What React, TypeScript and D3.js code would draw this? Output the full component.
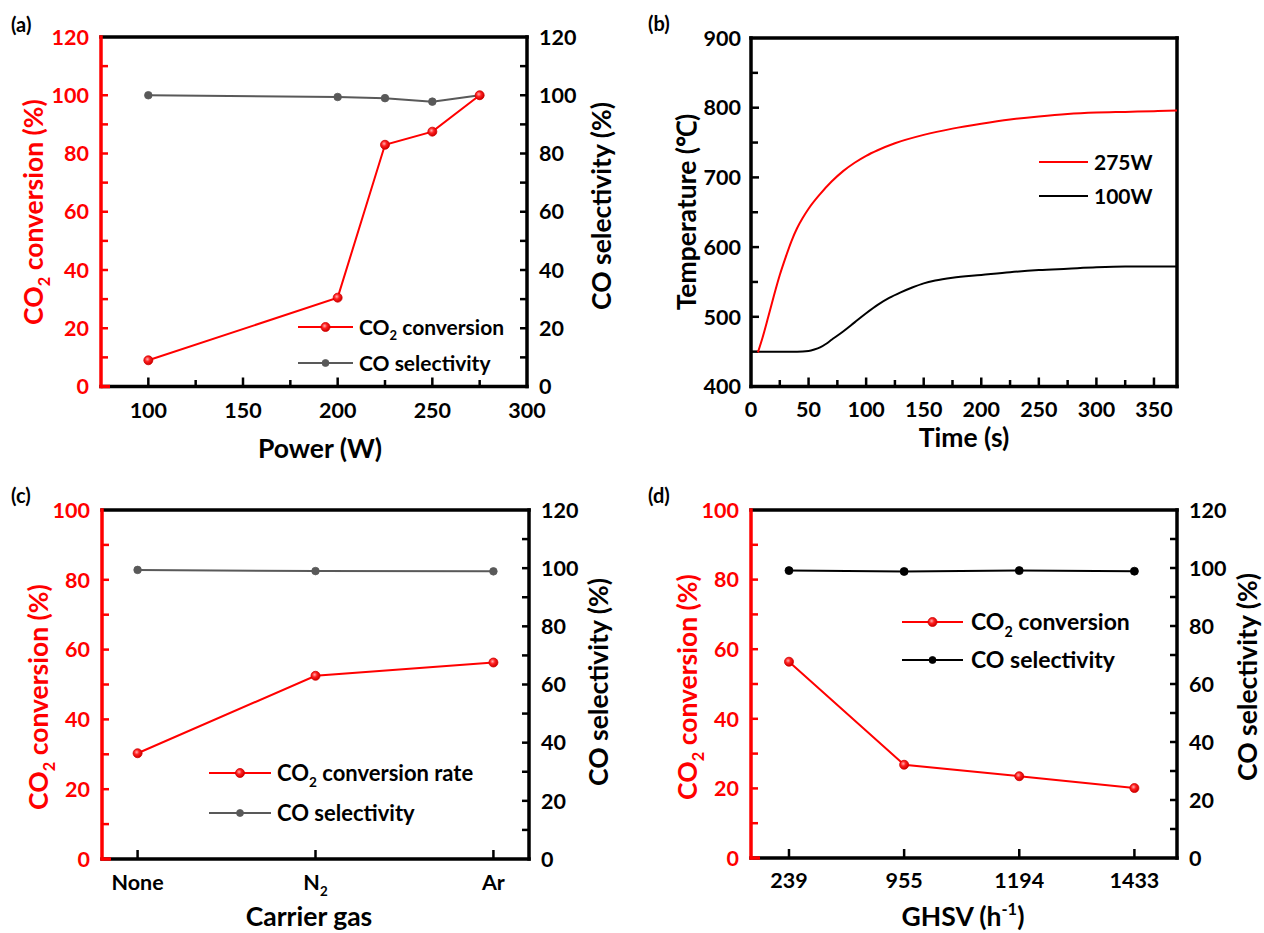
import React, { useEffect, useRef } from 'react';
import * as d3 from 'd3';

const W = 1264;
const H = 933;
const RED = '#ff0000';
const GREY = '#595959';
const FONT = 'Lato, "Open Sans", sans-serif';

// (a) power series
const powerW = [100, 200, 225, 250, 275];
const convA = [9, 30.5, 83, 87.5, 100];
const selA = [100, 99.4, 99, 97.8, 100];

// (b) temperature curves
const time275 = [6, 10, 15, 20, 25, 30, 35, 40, 45, 50, 60, 70, 80, 90, 100, 110, 125, 150, 175, 200, 225, 250, 275, 300, 325, 350, 370];
const temp275 = [449, 470, 500, 531, 560, 585, 608, 627, 642, 655, 676, 694, 709, 721, 731, 739, 749, 761, 770, 777, 783, 787.5, 791, 793, 794, 795, 796];
const time100 = [6, 20, 40, 50, 55, 60, 65, 70, 80, 90, 100, 110, 120, 130, 140, 150, 160, 175, 200, 225, 250, 275, 300, 325, 350, 370];
const temp100 = [450, 450, 450, 451, 453, 456, 461, 467, 479, 492, 505, 517, 527, 535, 542, 548, 552, 556, 560, 564, 567, 569, 571, 572, 572, 572];

// (c) carrier gas
const gasLabels = [[{ t: 'None' }], [{ t: 'N' }, { t: '2', sub: true }], [{ t: 'Ar' }]];
const convC = [30.3, 52.5, 56.3];
const selC = [99.4, 99.0, 98.9];

// (d) GHSV
const ghsvLabels = ['239', '955', '1194', '1433'];
const convD = [56.4, 26.8, 23.5, 20.1];
const selD = [99.1, 98.8, 99.1, 98.9];

type Part = { t: string; sub?: boolean; sup?: boolean };

const CO2_CONV: Part[] = [{ t: 'CO' }, { t: '2', sub: true }, { t: ' conversion (%)' }];
const CO_SEL: Part[] = [{ t: 'CO selectivity (%)' }];

function rich(text: any, parts: Part[], size: number) {
  let shift = 0;
  parts.forEach((p) => {
    const target = p.sub ? size * 0.28 : p.sup ? -size * 0.4 : 0;
    text.append('tspan')
      .attr('dy', target - shift)
      .attr('font-size', p.sub || p.sup ? size * 0.62 : size)
      .text(p.t);
    shift = target;
  });
}

function label(g: any, x: number, y: number, parts: Part[], size: number, anchor = 'start', rotate = 0, fill = '#000') {
  const t = g.append('text')
    .attr('transform', `translate(${x},${y}) rotate(${rotate})`)
    .attr('text-anchor', anchor)
    .attr('font-family', FONT)
    .attr('font-weight', 700)
    .attr('font-size', size)
    .attr('fill', fill);
  rich(t, parts, size);
  return t;
}

function ticksY(g: any, y: any, values: number[], x: number, dir: number, len: number, color: string) {
  g.append('g').selectAll('line').data(values).join('line')
    .attr('x1', x).attr('x2', x + dir * len)
    .attr('y1', (d: number) => y(d)).attr('y2', (d: number) => y(d))
    .attr('stroke', color).attr('stroke-width', 2.5);
}

function ticksX(g: any, x: any, values: number[], y: number, len: number) {
  g.append('g').selectAll('line').data(values).join('line')
    .attr('x1', (d: number) => x(d)).attr('x2', (d: number) => x(d))
    .attr('y1', y).attr('y2', y - len)
    .attr('stroke', '#000').attr('stroke-width', 2.5);
}

function yLabels(g: any, y: any, values: number[], x: number, anchor: string, color: string) {
  g.append('g').selectAll('text').data(values).join('text')
    .attr('x', x).attr('y', (d: number) => y(d)).attr('dy', '0.36em')
    .attr('text-anchor', anchor)
    .attr('font-family', FONT).attr('font-weight', 700).attr('font-size', 21.5)
    .attr('fill', color)
    .text((d: number) => d);
}

function frame(g: any, l: number, t: number, r: number, b: number, redLeft: boolean) {
  const sw = 3.5;
  g.append('line').attr('x1', l).attr('x2', r).attr('y1', t).attr('y2', t).attr('stroke', '#000').attr('stroke-width', sw).attr('stroke-linecap', 'square');
  g.append('line').attr('x1', l).attr('x2', r).attr('y1', b).attr('y2', b).attr('stroke', '#000').attr('stroke-width', sw).attr('stroke-linecap', 'square');
  g.append('line').attr('x1', r).attr('x2', r).attr('y1', t).attr('y2', b).attr('stroke', '#000').attr('stroke-width', sw).attr('stroke-linecap', 'square');
  const lc = redLeft ? RED : '#000';
  g.append('line').attr('x1', l).attr('x2', l).attr('y1', t).attr('y2', b).attr('stroke', lc).attr('stroke-width', sw).attr('stroke-linecap', 'square');
  if (redLeft) {
    g.append('line').attr('x1', l).attr('x2', l + 9).attr('y1', b).attr('y2', b).attr('stroke', RED).attr('stroke-width', sw);
  }
}

function series(g: any, xs: number[], ys: number[], x: any, y: any, color: string, marker: string, r: number) {
  const line = d3.line<number>().x((d, i) => x(xs[i])).y((d) => y(d));
  g.append('path').datum(ys).attr('d', line).attr('fill', 'none').attr('stroke', color).attr('stroke-width', 2);
  g.append('g').selectAll('circle').data(ys).join('circle')
    .attr('cx', (d: number, i: number) => x(xs[i])).attr('cy', (d: number) => y(d)).attr('r', r)
    .attr('fill', marker).attr('stroke', color === RED ? '#d00000' : color).attr('stroke-width', 0.8);
}

function legendRow(g: any, x1: number, x2: number, y: number, color: string, marker: string | null, r: number, parts: Part[], tx: number, size: number) {
  g.append('line').attr('x1', x1).attr('x2', x2).attr('y1', y).attr('y2', y).attr('stroke', color).attr('stroke-width', 2);
  if (marker) {
    g.append('circle').attr('cx', (x1 + x2) / 2).attr('cy', y).attr('r', r).attr('fill', marker)
      .attr('stroke', color === RED ? '#d00000' : color).attr('stroke-width', 0.8);
  }
  label(g, tx, y + size * 0.36, parts, size);
}

type DualCfg = {
  box: [number, number, number, number];
  x: any;
  xTickVals: number[];
  xMinor: number[];
  xTickLen: number;
  xLabelVals: number[];
  xLabels: Part[][];
  xLabelY: number;
  leftMax: number;
  xs: number[];
  conv: number[];
  sel: number[];
  selColor: string;
  selR: number;
  leftTitle: [number, number];
  rightTitle: [number, number];
  xTitle: Part[];
  xTitlePos: [number, number];
  leg: { x1: number; x2: number; y1: number; y2: number; tx: number; size: number; convText: Part[] };
  tag: string;
  tagPos: [number, number];
};

function dualPanel(svg: any, c: DualCfg) {
  const [l, t, r, b] = c.box;
  const g = svg.append('g');
  const yL = d3.scaleLinear().domain([0, c.leftMax]).range([b, t]);
  const yR = d3.scaleLinear().domain([0, 120]).range([b, t]);

  frame(g, l, t, r, b, true);
  ticksY(g, yL, d3.range(10, c.leftMax, 10), l, 1, 7, RED);
  ticksY(g, yR, d3.range(10, 120, 10), r, -1, 7, '#000');
  ticksX(g, c.x, c.xTickVals, b, c.xTickLen);
  ticksX(g, c.x, c.xMinor, b, 6.5);

  yLabels(g, yL, d3.range(0, c.leftMax + 1, 20), l - 12, 'end', RED);
  yLabels(g, yR, d3.range(0, 121, 20), r + 12, 'start', '#000');
  c.xLabelVals.forEach((v, i) => label(g, c.x(v), c.xLabelY, c.xLabels[i], 21.5, 'middle'));

  label(g, c.leftTitle[0], c.leftTitle[1], CO2_CONV, 26.5, 'middle', -90, RED);
  label(g, c.rightTitle[0], c.rightTitle[1], CO_SEL, 26.5, 'middle', -90);
  label(g, c.xTitlePos[0], c.xTitlePos[1], c.xTitle, 26.5, 'middle');
  label(g, c.tagPos[0], c.tagPos[1], [{ t: c.tag }], 20);

  series(g, c.xs, c.sel, c.x, yR, c.selColor, c.selColor, c.selR);
  series(g, c.xs, c.conv, c.x, yL, RED, 'url(#ball)', 4.5);

  legendRow(g, c.leg.x1, c.leg.x2, c.leg.y1, RED, 'url(#ball)', 4.5, c.leg.convText, c.leg.tx, c.leg.size);
  legendRow(g, c.leg.x1, c.leg.x2, c.leg.y2, c.selColor, c.selColor, 3.5, CO_SEL.map((p) => ({ t: p.t.replace(' (%)', '') })), c.leg.tx, c.leg.size);
}

function tempPanel(svg: any) {
  const [l, t, r, b] = [751, 38, 1177, 386.5];
  const g = svg.append('g');
  const x = d3.scaleLinear().domain([0, 370]).range([l, r]);
  const y = d3.scaleLinear().domain([400, 900]).range([b, t]);

  frame(g, l, t, r, b, false);
  ticksY(g, y, d3.range(450, 900, 100), l, 1, 7, '#000');
  ticksY(g, y, d3.range(500, 900, 100), l, 1, 8, '#000');
  ticksX(g, x, d3.range(50, 360, 50), b, 9);
  ticksX(g, x, d3.range(25, 370, 50), b, 6.5);
  yLabels(g, y, d3.range(400, 901, 100), l - 10, 'end', '#000');
  g.append('g').selectAll('text').data(d3.range(0, 351, 50)).join('text')
    .attr('x', (d: number) => x(d)).attr('y', 417)
    .attr('text-anchor', 'middle')
    .attr('font-family', FONT).attr('font-weight', 700).attr('font-size', 21.5)
    .text((d: number) => d);

  const line = d3.line<number>().curve(d3.curveMonotoneX);
  g.append('path').attr('d', line.x((d, i) => x(time100[i])).y((d) => y(d))(temp100))
    .attr('fill', 'none').attr('stroke', '#000').attr('stroke-width', 2);
  g.append('path').attr('d', line.x((d, i) => x(time275[i])).y((d) => y(d))(temp275))
    .attr('fill', 'none').attr('stroke', RED).attr('stroke-width', 2);

  legendRow(g, 1039, 1088, 162, RED, null, 0, [{ t: '275W' }], 1094, 21);
  legendRow(g, 1039, 1088, 196, '#000', null, 0, [{ t: '100W' }], 1094, 21);

  label(g, 696, 212, [{ t: 'Temperature (℃)' }], 26.5, 'middle', -90);
  label(g, 964, 447, [{ t: 'Time (s)' }], 26.5, 'middle');
  label(g, 648, 31, [{ t: '(b)' }], 20);
}

export default function App() {
  const ref = useRef<SVGSVGElement>(null);

  useEffect(() => {
    const svg = d3.select(ref.current);
    svg.selectAll('*').remove();

    const grad = svg.append('defs').append('radialGradient').attr('id', 'ball')
      .attr('cx', '40%').attr('cy', '38%').attr('r', '60%');
    grad.append('stop').attr('offset', '0%').attr('stop-color', '#ffb0b0');
    grad.append('stop').attr('offset', '45%').attr('stop-color', '#ff2020');
    grad.append('stop').attr('offset', '100%').attr('stop-color', '#d00000');

    const xA = d3.scaleLinear().domain([75, 300]).range([101, 527]);
    dualPanel(svg, {
      box: [101, 37, 527, 386.5],
      x: xA,
      xTickVals: d3.range(100, 300, 50),
      xMinor: d3.range(125, 300, 50),
      xTickLen: 9,
      xLabelVals: d3.range(100, 301, 50),
      xLabels: d3.range(100, 301, 50).map((v) => [{ t: String(v) }]),
      xLabelY: 418,
      leftMax: 120,
      xs: powerW,
      conv: convA,
      sel: selA,
      selColor: GREY,
      selR: 3.8,
      leftTitle: [43, 212],
      rightTitle: [611, 206],
      xTitle: [{ t: 'Power (W)' }],
      xTitlePos: [320, 458],
      leg: { x1: 298, x2: 353, y1: 327, y2: 363, tx: 359, size: 21, convText: [{ t: 'CO' }, { t: '2', sub: true }, { t: ' conversion' }] },
      tag: '(a)',
      tagPos: [11, 32],
    });

    tempPanel(svg);

    const xC = d3.scaleLinear().domain([-0.2, 2.2]).range([102, 529]);
    const idxC = gasLabels.map((_, i) => i);
    dualPanel(svg, {
      box: [102, 510, 529, 859],
      x: xC,
      xTickVals: idxC,
      xMinor: [],
      xTickLen: 9,
      xLabelVals: idxC,
      xLabels: gasLabels,
      xLabelY: 890,
      leftMax: 100,
      xs: idxC,
      conv: convC,
      sel: selC,
      selColor: GREY,
      selR: 3.8,
      leftTitle: [48, 697],
      rightTitle: [608, 682],
      xTitle: [{ t: 'Carrier gas' }],
      xTitlePos: [309, 926],
      leg: { x1: 209, x2: 271, y1: 773, y2: 813, tx: 277, size: 22, convText: [{ t: 'CO' }, { t: '2', sub: true }, { t: ' conversion rate' }] },
      tag: '(c)',
      tagPos: [11, 503],
    });

    const xD = d3.scaleLinear().domain([-0.33, 3.37]).range([751, 1177]);
    const idxD = ghsvLabels.map((_, i) => i);
    dualPanel(svg, {
      box: [751, 510, 1177, 858],
      x: xD,
      xTickVals: idxD,
      xMinor: [],
      xTickLen: 9,
      xLabelVals: idxD,
      xLabels: ghsvLabels.map((s) => [{ t: s }]),
      xLabelY: 888,
      leftMax: 100,
      xs: idxD,
      conv: convD,
      sel: selD,
      selColor: '#000',
      selR: 4,
      leftTitle: [697, 687],
      rightTitle: [1257, 677],
      xTitle: [{ t: 'GHSV (h' }, { t: '-1', sup: true }, { t: ')' }],
      xTitlePos: [963, 926],
      leg: { x1: 902, x2: 963, y1: 622, y2: 660, tx: 971, size: 23, convText: [{ t: 'CO' }, { t: '2', sub: true }, { t: ' conversion' }] },
      tag: '(d)',
      tagPos: [648, 503],
    });
  }, []);

  return (
    <div style={{ width: W, height: H, overflow: 'hidden' }}>
      <style>{'body{margin:0;overflow:hidden;}'}</style>
      <svg ref={ref} width={W} height={H} viewBox={`0 0 ${W} ${H}`} style={{ display: 'block', background: '#fff' }} />
    </div>
  );
}
